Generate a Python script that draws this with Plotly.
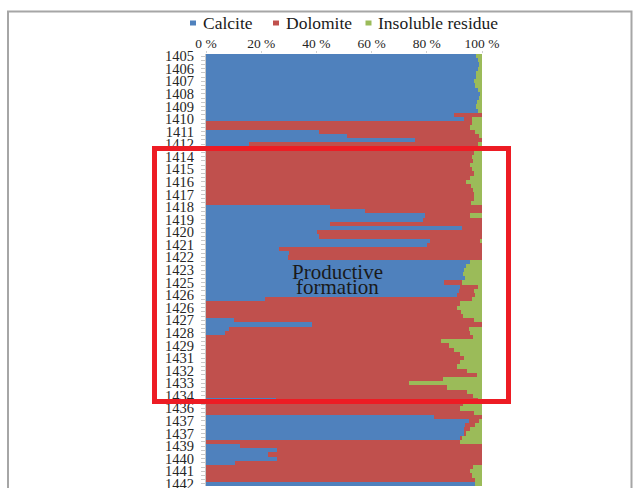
import plotly.graph_objects as go

# Depth labels shown on the axis (every third sample)
depth_labels = ["1405", "1406", "1407", "1408", "1409", "1410", "1411", "1412",
                "1414", "1415", "1416", "1417", "1418", "1419", "1420", "1421",
                "1422", "1423", "1425", "1426", "1426", "1427", "1428", "1429",
                "1431", "1432", "1433", "1434", "1436", "1437", "1437", "1439",
                "1440", "1441", "1442"]

# Mineral composition of each sample, % (top to bottom)
calcite = [98, 98.5, 99, 98.5, 98, 97.8, 97, 97.6, 98.5, 99.2,
           98.8, 98.2, 98, 98.4, 89.7, 93.5, 0, 0, 40.8, 51,
           75.8, 15.4, 0, 0, 0, 0, 0, 0, 0, 0,
           0, 0, 0, 0, 0, 0, 45, 57.7, 79.5, 78.6,
           45, 92.8, 40.2, 40.8, 81, 80, 26.3, 30, 29.6, 95.5,
           94.3, 93.4, 93, 94, 86.1, 92, 91.5, 91, 21.5, 0,
           0, 0, 0, 10, 38.4, 8.2, 7, 0, 0, 0,
           0, 0, 0, 0, 0, 0, 0, 0, 0, 0,
           0, 0, 25.4, 0, 0, 0, 82.5, 95.2, 94, 93.4,
           93.4, 92.1, 0, 12.4, 25.7, 22.3, 25.7, 10.6, 0, 0,
           0, 0, 97.6]

dolomite = [0, 0, 0, 0, 0, 0, 0, 0, 0, 0,
            0, 0, 0, 0, 10.3, 2.9, 96.5, 95.5, 56.7, 48,
            24.2, 83, 97.5, 97, 96.4, 96.7, 95.5, 96.4, 97, 95.8,
            94.3, 96, 96.7, 97, 97.2, 96, 55, 42.3, 16, 21.4,
            55, 7.2, 59.8, 59.2, 18.6, 20, 73.7, 70, 70.4, 0,
            0, 0, 0, 0, 6.7, 6.6, 5.5, 6.6, 75, 92,
            91, 92.5, 93, 87, 61.6, 87, 88.8, 96.7, 85, 88,
            89.7, 92, 93.4, 92, 91, 94.6, 98.2, 86, 73.4, 87.3,
            94.6, 96.7, 73, 93, 92, 97, 17.5, 3.6, 3.6, 2.4,
            0.9, 0.7, 92, 87.6, 74.3, 77.7, 74.3, 89.4, 96.7, 95.8,
            96.4, 97.6, 0]

insoluble = [2, 1.5, 1, 1.5, 2, 2.2, 3, 2.4, 1.5, 0.8,
             1.2, 1.8, 2, 1.6, 0, 3.6, 3.5, 4.5, 2.5, 1,
             0, 1.6, 2.5, 3, 3.6, 3.3, 4.5, 3.6, 3, 4.2,
             5.7, 4, 3.3, 3, 2.8, 4, 0, 0, 4.5, 0,
             0, 0, 0, 0, 0.4, 0, 0, 0, 0, 4.5,
             5.7, 6.6, 7, 6, 7.2, 1.4, 3, 2.4, 3.5, 8,
             9, 7.5, 7, 3, 0, 4.8, 4.2, 3.3, 15, 12,
             10.3, 8, 6.6, 8, 9, 5.4, 1.8, 14, 26.6, 12.7,
             5.4, 3.3, 1.6, 7, 8, 3, 0, 1.2, 2.4, 4.2,
             5.7, 7.2, 8, 0, 0, 0, 0, 0, 3.3, 4.2,
             3.6, 2.4, 2.4]

series_names = ["Calcite", "Dolomite", "Insoluble residue"]
series_colors = ["#4f81bd", "#c0504d", "#9bbb59"]

samples = list(range(len(calcite)))

# Figure geometry (pixels)
W, H = 639, 488
ML, MR, MT, MB = 206, 157, 54, 2
PW, PH = W - ML - MR, H - MT - MB


def px_x(x):
    return (x - ML) / PW


def px_y(y):
    return (H - MB - y) / PH


SERIF = "Liberation Serif, Times New Roman, serif"

fig = go.Figure()
for name, vals, col in zip(series_names, [calcite, dolomite, insoluble], series_colors):
    fig.add_trace(go.Bar(
        x=vals, y=samples, orientation="h", name=name,
        marker=dict(color=col, line=dict(width=0)),
        showlegend=False,
    ))

shapes = []
annotations = []

# Outer chart frame
shapes.append(dict(type="path", xref="paper", yref="paper",
                   path=f"M {px_x(8)} {px_y(520)} L {px_x(8)} {px_y(11.5)} "
                        f"L {px_x(631.5)} {px_y(11.5)} L {px_x(631.5)} {px_y(520)}",
                   line=dict(color="#a6a6a6", width=2), layer="below"))

# Legend: small colour keys and names across the top
LEG_Y = 23
legend_items = [(190, 201, 0), (273, 284, 1), (365.5, 375.5, 2)]
for kx, tx, i in legend_items:
    shapes.append(dict(type="rect", xref="paper", yref="paper",
                       x0=px_x(kx), x1=px_x(kx + 6), y0=px_y(LEG_Y + 2.5), y1=px_y(LEG_Y - 2.5),
                       fillcolor=series_colors[i], line=dict(width=0)))
    annotations.append(dict(text=series_names[i], xref="paper", yref="paper",
                            x=px_x(tx), y=px_y(LEG_Y), xanchor="left", yanchor="middle",
                            showarrow=False, font=dict(family=SERIF, size=17.5, color="#1a1a1a")))

# Highlight box around the productive interval
shapes.append(dict(type="rect", xref="paper", yref="paper",
                   x0=px_x(154.5), x1=px_x(508.5), y0=px_y(401.5), y1=px_y(148.5),
                   line=dict(color="#ed1c24", width=5), fillcolor="rgba(0,0,0,0)"))

for txt, yy in [("Productive", 271.5), ("formation", 286.5)]:
    annotations.append(dict(text=txt, xref="paper", yref="paper",
                            x=px_x(337.5), y=px_y(yy), xanchor="center", yanchor="middle",
                            showarrow=False, font=dict(family=SERIF, size=21, color="#1a1a1a")))

fig.update_layout(
    width=W, height=H,
    margin=dict(l=ML, r=MR, t=MT, b=MB, pad=0),
    paper_bgcolor="white", plot_bgcolor="white",
    barmode="stack", bargap=0,
    shapes=shapes, annotations=annotations,
    showlegend=False,
    xaxis=dict(
        side="top", range=[0, 100], fixedrange=True, automargin=False,
        tickmode="array", tickvals=[0, 20, 40, 60, 80, 100],
        ticktext=["0 %", "20 %", "40 %", "60 %", "80 %", "100 %"],
        ticks="outside", ticklen=2, tickcolor="#d0d0d0",
        showgrid=False, showline=False, zeroline=False,
        tickfont=dict(family=SERIF, size=13.5, color="#262626"),
        ticklabelstandoff=-2,
    ),
    yaxis=dict(
        range=[len(samples) - 0.5, -0.5], fixedrange=True, automargin=False,
        tickmode="array", tickvals=samples[::3], ticktext=depth_labels,
        ticks="outside", ticklen=4, tickcolor="#c8c8c8",
        minor=dict(tickmode="linear", tick0=0, dtick=1, ticks="outside",
                   ticklen=4, tickcolor="#c8c8c8"),
        showline=True, linecolor="#c8c8c8", linewidth=1,
        showgrid=False, zeroline=False,
        tickfont=dict(family=SERIF, size=14.5, color="#262626"),
        ticklabelstandoff=4, ticklabeloverflow="allow",
    ),
)

fig.write_html("out.html")
